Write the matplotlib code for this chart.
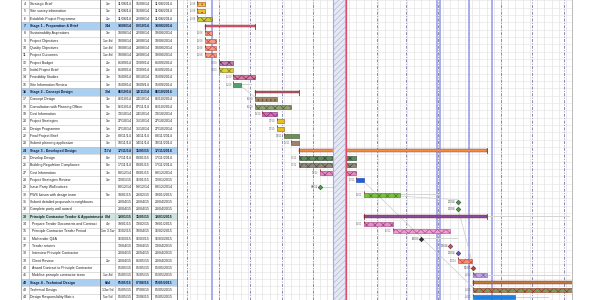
import matplotlib
matplotlib.use('Agg')
from datetime import datetime, timedelta
import matplotlib.pyplot as plt
import matplotlib.dates as mdates

plt.rcParams['font.family'] = ['Liberation Sans', 'DejaVu Sans']
plt.rcParams['hatch.linewidth'] = 0.5

# ---- task table data ----
rows = list(range(4, 45))
names = ['Strategic Brief', 'Site survey information', 'Establish Project Programme',
         'Stage 1 - Preparation & Brief', 'Sustainability Aspirations', 'Project Objectives',
         'Quality Objectives', 'Project Outcomes', 'Project Budget', 'Initial Project Brief',
         'Feasibility Studies', 'Site Information Review', 'Stage 2 - Concept Design',
         'Concept Design', 'Consultation with Planning Officer', 'Cost Information',
         'Project Strategies', 'Design Programme', 'Final Project Brief',
         'Submit planning application', 'Stage 3 - Developed Design', 'Develop Design',
         'Building Regulation Compliance', 'Cost Information', 'Project Strategies Review',
         'Issue Party Wall notices', 'PWS liaison with design team',
         'Submit detailed proposals to neighbours', 'Complete party wall award',
         'Principle Contractor Tender & Appointment', 'Prepare Tender Documents and Contract',
         'Principle Contractor Tender Period', 'Mid tender Q&A', 'Tender returns',
         'Interview Principle Contractor', 'Client Review', 'Award Contract to Principle Contractor',
         'Mobilise principle contractor team', 'Stage 4 - Technical Design', 'Technical Design',
         'Design Responsibility Matrix']
durations = ['1w', '1w', '2w', '34d', '1w', '1w 4d', '1w 4d', '1w 4d', '2w', '2w', '3w', '1w',
             '30d', '3w', '5w', '2w', '1w', '1w', '2w', '1w', '117d', '8w', '8w', '3w', '1w',
             '', '5w', '', '', '83d', '4w', '1m 3.5w', '', '', '', '2w', '', '1w 4d', '68d',
             '13w 5d', '5w 5d']
starts = ['11/08/14', '11/08/14', '11/08/14', '18/08/14', '18/08/14', '18/08/14', '18/08/14',
          '18/08/14', '01/09/14', '01/09/14', '15/09/14', '15/09/14', '06/10/14', '06/10/14',
          '06/10/14', '13/10/14', '27/10/14', '27/10/14', '03/11/14', '10/11/14', '17/11/14',
          '17/11/14', '17/11/14', '08/12/14', '12/01/15', '08/12/14', '19/01/15', '20/04/15',
          '20/04/15', '19/01/15', '19/01/15', '16/02/15', '16/03/15', '13/04/15', '20/04/15',
          '20/04/15', '05/05/15', '05/05/15', '05/05/15', '05/05/15', '05/05/15']
finishes = ['15/08/14', '15/08/14', '22/08/14', '03/10/14', '22/08/14', '28/08/14', '28/08/14',
            '28/08/14', '12/09/14', '12/09/14', '03/10/14', '19/09/14', '14/11/14', '24/10/14',
            '07/11/14', '24/10/14', '31/10/14', '31/10/14', '14/11/14', '14/11/14', '15/05/15',
            '09/01/15', '09/01/15', '09/01/15', '16/01/15', '08/12/14', '20/02/15', '20/04/15',
            '20/04/15', '15/05/15', '13/02/15', '10/04/15', '16/03/15', '13/04/15', '20/04/15',
            '01/05/15', '05/05/15', '15/05/15', '07/08/15', '07/08/15', '12/06/15']

summary_rows = [7, 16, 24, 42]
group_rows = [33]

# bar styles: face colour, pattern colour, pattern
bar_styles = {
    4: ('#e8c830', '#b04020', '....'), 5: ('#e8c830', '#b04020', '....'),
    6: ('#c8d040', '#806020', 'xxxx'),
    8: ('#f0a080', '#c04040', 'xxxx'), 9: ('#f0a080', '#c04040', 'xxxx'),
    10: ('#f0a080', '#c04040', 'xxxx'), 11: ('#f0a080', '#c04040', 'xxxx'),
    12: ('#c080b0', '#702060', 'xxxx'), 13: ('#e0d040', '#808020', 'xxxx'),
    14: ('#d080a0', '#902050', 'xxxx'), 15: ('#50a070', '#206040', None),
    17: ('#a08868', '#604830', '....'), 18: ('#90a070', '#506040', 'xxxx'),
    19: ('#d070b0', '#802070', 'xxxx'), 20: ('#e8c020', '#906010', None),
    21: ('#e8c020', '#906010', None), 22: ('#6a9058', '#405030', None),
    23: ('#a08070', '#604040', None), 25: ('#608a60', '#304830', 'xxxx'),
    26: ('#908878', '#504840', 'xxxx'), 27: ('#e090c0', '#a03070', 'xxxx'),
    28: ('#2060e0', '#1040a0', None), 30: ('#78c040', '#408020', 'xxxx'),
    34: ('#e090c8', '#a04080', 'xxxx'), 35: ('#e8a0d0', '#c04090', 'xxxx'),
    39: ('#f09070', '#d04030', 'xxxx'), 41: ('#c0a0e0', '#8060b0', 'xxxx'),
    43: ('#70a060', '#a03020', 'xxxx'), 44: ('#2080e0', '#1060b0', None),
}
summary_colors = {7: '#e05878', 16: '#b05868', 24: '#f09040', 33: '#8848a0', 42: '#c07838'}
milestone_colors = {29: '#40a040', 31: '#40a040', 32: '#40a040', 36: '#303030',
                    37: '#e04060', 38: '#6050c0', 40: '#c04030'}
slack_ends = {15: '03/10/14', 29: '31/12/14', 30: '03/04/15', 33: '07/08/15',
              36: '20/04/15', 41: '07/08/15', 44: '17/07/15'}
links = [(15, 17), (28, 43), (32, 40), (22, 24), (30, 31)]
holiday = ('20/12/14', '01/01/15')
status_date = '02/01/15'
marker_dates = ['25/08/14', '31/03/15', '03/04/15', '01/05/15', '23/05/15']


def d(s):
    return datetime.strptime(s, '%d/%m/%y')


def bar_end(s):
    f = d(s)
    return f + timedelta(days=3 if f.weekday() == 4 else 1)


fig = plt.figure(figsize=(6, 3), dpi=100, facecolor='white')
ylim = (44.38, 3.454)

# ---------------- table ----------------
ax_t = fig.add_axes([0, 0, 178 / 600, 1])
ax_t.set_xlim(0, 178)
ax_t.set_ylim(*ylim)
ax_t.axis('off')
fs = 2.5
for r, nm, du, s, f in zip(rows, names, durations, starts, finishes):
    bold = r in summary_rows or r in group_rows
    if r in summary_rows:
        ax_t.fill_between([21, 177], r - 0.5, r + 0.5, color='#a9cff2', lw=0, zorder=0)
    elif r in group_rows:
        ax_t.fill_between([21, 177], r - 0.5, r + 0.5, color='#cfe3dd', lw=0, zorder=0)
    w = 'bold' if bold else 'normal'
    c = '#0c1830' if bold else '#202020'
    ax_t.text(25, r, str(r), fontsize=fs, ha='center', va='center', color=c, fontweight=w)
    indent = 31.5 if 34 <= r <= 41 else 30.5
    ax_t.text(indent, r, nm, fontsize=fs, ha='left', va='center', color=c, fontweight=w)
    ax_t.text(108, r, du, fontsize=fs, ha='center', va='center', color=c, fontweight=w)
    ax_t.text(124.5, r, s, fontsize=fs, ha='center', va='center', color=c, fontweight=w)
    ax_t.text(142.5, r, f, fontsize=fs, ha='center', va='center', color=c, fontweight=w)
    ax_t.text(163.5, r, d(s).strftime('%d/%m/%Y'), fontsize=fs, ha='center', va='center',
              color=c, fontweight=w)
for r in rows + [45]:
    ax_t.plot([21, 177], [r - 0.5, r - 0.5], color='#c4c4c4', lw=0.4, zorder=1)
for x, col in [(21, '#a0a0a0'), (28.5, '#c4c4c4'), (100, '#606060'), (115, '#c4c4c4'),
               (132, '#606060'), (151, '#606060'), (177, '#606060')]:
    ax_t.axvline(x, color=col, lw=0.6, zorder=2)

# ---------------- gantt ----------------
ax_g = fig.add_axes([178 / 600, 0, 394 / 600, 1])
x0, x1 = datetime(2014, 7, 23, 7), datetime(2015, 8, 8, 17)
ax_g.set_xlim(mdates.date2num(x0), mdates.date2num(x1))
ax_g.set_ylim(*ylim)
ax_g.set_xticks([])
ax_g.set_yticks([])
for sp in ['top', 'left', 'bottom']:
    ax_g.spines[sp].set_visible(False)
ax_g.spines['right'].set_color('#b0b0b0')
ax_g.spines['right'].set_linewidth(0.6)

# weekly grid
wk = datetime(2014, 7, 21)
while wk < x1:
    ax_g.axvline(mdates.date2num(wk), color='#dcdcdc', lw=0.4, zorder=0)
    wk += timedelta(days=7)
# monthly dashed lines
for y in (2014, 2015):
    for m in range(1, 13):
        md = datetime(y, m, 1)
        if x0 < md < x1:
            ax_g.axvline(mdates.date2num(md), color='#8a8ab4', lw=0.7,
                         ls=(0, (3, 1.5, 1, 1.5)), zorder=0.5)
for r in rows + [45]:
    ax_g.axhline(r - 0.5, color='#e2e2e2', lw=0.4, zorder=0)
for md in marker_dates:
    ax_g.axvline(mdates.date2num(d(md)), color='#a2a8ec', lw=1.3, zorder=0.6)

# slack lines
for r, e in slack_ends.items():
    f = bar_end(finishes[rows.index(r)])
    ax_g.barh(r, mdates.date2num(d(e)) - mdates.date2num(f), left=mdates.date2num(f),
              height=0.16, color='#d4d4d4', lw=0, zorder=1)

# link lines
for a, b in links:
    xa = mdates.date2num(bar_end(finishes[rows.index(a)]))
    xb = mdates.date2num(d(starts[rows.index(b)]))
    ax_g.plot([xa, xb], [a + 0.2, b - 0.3], color='#c8c8c8', lw=0.45, zorder=1)

for r, s, f, du in zip(rows, starts, finishes, durations):
    xs = mdates.date2num(d(s))
    xe = mdates.date2num(bar_end(f))
    if r in summary_colors:
        col = summary_colors[r]
        ax_g.barh(r, xe - xs, left=xs, height=0.36, color=col, edgecolor='#803030',
                  lw=0.3, zorder=2)
        ax_g.plot([xs, xs], [r - 0.3, r + 0.35], color='#803030', lw=0.6, zorder=2)
        ax_g.plot([xe, xe], [r - 0.3, r + 0.35], color='#803030', lw=0.6, zorder=2)
    elif r in milestone_colors:
        ax_g.plot(xs, r, marker='D', ms=2.4, color=milestone_colors[r],
                  mec='#202020', mew=0.3, zorder=3)
        ax_g.text(xs - 2, r, d(s).strftime('%d/%m'), fontsize=2.2, ha='right',
                  va='center', color='#505050', zorder=3)
    else:
        face, hc, hatch = bar_styles[r]
        ax_g.barh(r, xe - xs, left=xs, height=0.55, color=face, edgecolor=hc,
                  hatch=hatch, lw=0.4, zorder=2)
        ax_g.plot(xs, r - 0.32, marker='|', ms=1.6, color='#a02020', mew=0.6, zorder=3)
        ax_g.text(xs - 1.5, r, d(s).strftime('%d/%m'), fontsize=1.8, ha='right',
                  va='center', color='#707070', zorder=3)

# holiday band and status line
hs, he = mdates.date2num(d(holiday[0])), mdates.date2num(d(holiday[1]))
ax_g.axvspan(hs, he, facecolor='#e6e9f4', edgecolor='#b2b8d6', hatch='//////', lw=0, zorder=4)
ax_g.axvline(hs, color='#a2a8ec', lw=0.8, zorder=4)
ax_g.axvline(he, color='#a2a8ec', lw=0.8, zorder=4)
ax_g.axvline(mdates.date2num(d(status_date)), color='#e04a6a', lw=0.9, zorder=4)

fig.savefig('out.png', dpi=100, facecolor='white')
